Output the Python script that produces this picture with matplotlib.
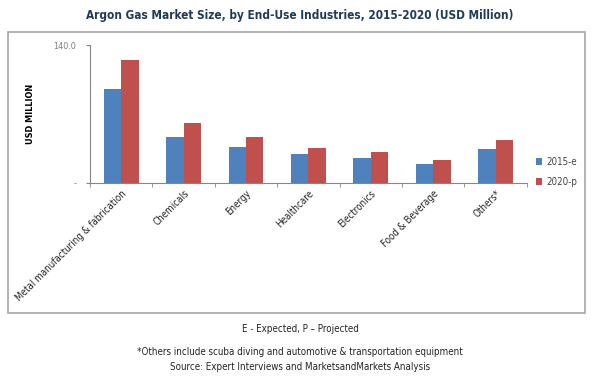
import matplotlib.pyplot as plt
from matplotlib.patches import Rectangle
import numpy as np

categories = ["Metal manufacturing & fabrication", "Chemicals", "Energy", "Healthcare",
              "Electronics", "Food & Beverage", "Others*"]
val_2015 = [95.0, 47.0, 36.2, 29.4, 25.7, 19.5, 34.8]
val_2020 = [124.4, 60.5, 46.3, 35.8, 31.8, 23.2, 43.3]
series_names = ["2015-e", "2020-p"]

blue = "#4F81BD"
red = "#C0504D"
grey = "#868686"

plt.rcParams["font.stretch"] = "condensed"

fig = plt.figure(figsize=(6, 3.82), dpi=100)
ax = fig.add_axes([0.15, 0.521, 0.728, 0.361])

x = np.arange(len(categories))
w = 0.28
ax.bar(x - w / 2, val_2015, w, color=blue, label=series_names[0])
ax.bar(x + w / 2, val_2020, w, color=red, label=series_names[1])

ax.set_xlim(-0.5, len(categories) - 0.5)
ax.set_ylim(0, 140)
ax.set_yticks([0, 140])
ax.set_yticklabels(["-", "140.0"], color="#7f7f7f", fontsize=6.5)
ax.set_xticks(x)
ax.set_xticklabels(categories, rotation=45, ha="right", rotation_mode="anchor",
                   fontsize=7, color="#222222")
ax.set_xticks(np.arange(-0.5, len(categories)), minor=True)
ax.tick_params(axis="x", which="major", length=0, pad=4)
ax.tick_params(axis="x", which="minor", length=3, color=grey)
ax.tick_params(axis="y", length=3, color=grey, pad=7)
for s in ["top", "right"]:
    ax.spines[s].set_visible(False)
for s in ["left", "bottom"]:
    ax.spines[s].set_color(grey)
ax.set_ylabel("USD MILLION", fontsize=6.5, fontweight="bold", labelpad=13)

ax.legend(loc="center left", bbox_to_anchor=(1.0, 0.08), frameon=False,
          fontsize=7, handlelength=0.7, handleheight=0.7, handletextpad=0.4,
          labelspacing=1.0, labelcolor="#444444")

# outer frame
fig.patches.append(Rectangle((8 / 600, 1 - 313 / 382), 577 / 600, 281 / 382,
                             transform=fig.transFigure, fill=False,
                             edgecolor="#a6a6a6", linewidth=1.2))

fig.text(0.5, 1 - 15 / 382, "Argon Gas Market Size, by End-Use Industries, 2015-2020 (USD Million)",
         ha="center", va="center", fontsize=8.5, fontweight="bold", color="#1F3B57")
fig.text(0.5, 1 - 329 / 382, "E - Expected, P \u2013 Projected", ha="center", va="center",
         fontsize=7, color="#222222")
fig.text(0.5, 1 - 352 / 382,
         "*Others include scuba diving and automotive & transportation equipment",
         ha="center", va="center", fontsize=7, color="#222222")
fig.text(0.5, 1 - 367 / 382, "Source: Expert Interviews and MarketsandMarkets Analysis",
         ha="center", va="center", fontsize=7, color="#222222")

fig.savefig("out.png", dpi=100)
